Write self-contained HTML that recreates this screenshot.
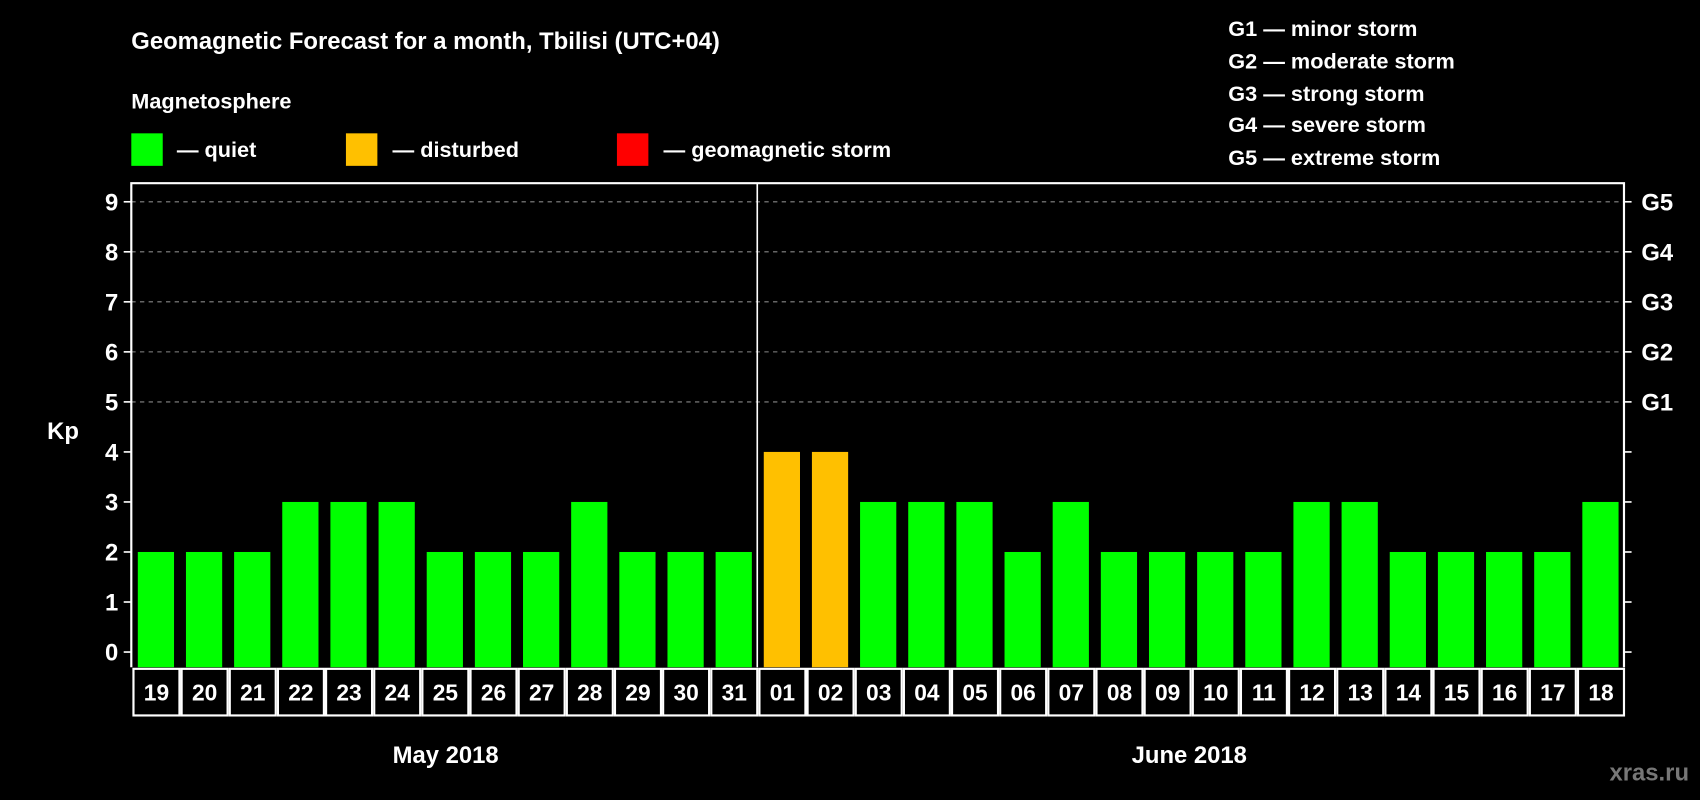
<!DOCTYPE html>
<html><head><meta charset="utf-8"><style>
html,body{margin:0;padding:0;background:#000;}
svg{display:block;font-family:"Liberation Sans",sans-serif;font-weight:bold;}
</style></head><body>
<svg id="chart" width="1700" height="800" viewBox="0 0 1568 738" xmlns="http://www.w3.org/2000/svg">
<rect width="1568" height="738" fill="#000"/>
<text x="121" y="45" fill="#fff" font-size="22">Geomagnetic Forecast for a month, Tbilisi (UTC+04)</text>
<text x="121" y="100" fill="#fff" font-size="20">Magnetosphere</text>
<g><rect x="121" y="123" width="29" height="30" fill="#00ff00"/><text x="163" y="145" fill="#fff" font-size="20">— quiet</text></g>
<g><rect x="319" y="123" width="29" height="30" fill="#ffc000"/><text x="362" y="145" fill="#fff" font-size="20">— disturbed</text></g>
<g><rect x="569" y="123" width="29" height="30" fill="#ff0000"/><text x="612" y="145" fill="#fff" font-size="20">— geomagnetic storm</text></g>
<g fill="#fff" font-size="20">
<text x="1133" y="33">G1 — minor storm</text>
<text x="1133" y="63">G2 — moderate storm</text>
<text x="1133" y="93">G3 — strong storm</text>
<text x="1133" y="122">G4 — severe storm</text>
<text x="1133" y="152">G5 — extreme storm</text>
</g>
<text x="58" y="405" fill="#fff" font-size="22" text-anchor="middle">Kp</text>
<g id="grid"></g><g id="bars"></g><g id="axes"></g><g id="dates"></g>
<text x="411" y="704" fill="#fff" font-size="22" text-anchor="middle">May 2018</text>
<text x="1097" y="704" fill="#fff" font-size="22" text-anchor="middle">June 2018</text>
<text x="1558" y="720" fill="#777" font-size="22" text-anchor="end">xras.ru</text>
</svg>
<script>
const days = ["19","20","21","22","23","24","25","26","27","28","29","30","31","01","02","03","04","05","06","07","08","09","10","11","12","13","14","15","16","17","18"];
const kpValues = [2,2,2,3,3,3,2,2,2,3,2,2,2,4,4,3,3,3,2,3,2,2,2,2,3,3,2,2,2,2,3];
const yTicks = [0,1,2,3,4,5,6,7,8,9];
const gLabels = ["G1","G2","G3","G4","G5"];
const NS="http://www.w3.org/2000/svg";
const X0=121,X1=1498,YT=169,YB=615.5;
const y0=601.5,unit=46.15;
const ys=v=>y0-v*unit;
const step=(X1-X0)/days.length;
const xs=i=>X0+i*step;
function mk(t,a,p){const e=document.createElementNS(NS,t);for(const k in a)e.setAttribute(k,a[k]);p.appendChild(e);return e;}
const grid=document.getElementById('grid'),bars=document.getElementById('bars'),axes=document.getElementById('axes'),dates=document.getElementById('dates');
yTicks.forEach(v=>{
  if(v>=5){const l=mk('line',{x1:X0,x2:X1,y1:ys(v),y2:ys(v),stroke:'#888','stroke-dasharray':'4,4','stroke-width':1},grid);
  
  }
  const t1=mk('line',{x1:X0-7,x2:X0,y1:ys(v),y2:ys(v),stroke:'#fff','stroke-width':1.5},axes);
  
  
  const t2=mk('line',{x1:X1,x2:X1+7,y1:ys(v),y2:ys(v),stroke:'#fff','stroke-width':1.5},axes);
  
  
  const tx=mk('text',{x:X0-12,y:ys(v)+8,fill:'#fff','font-size':22,'text-anchor':'end'},axes);
  tx.textContent=v;
  
  
});
gLabels.forEach((g,i)=>{
  const tx=mk('text',{x:X1+16,y:ys(5+i)+8,fill:'#fff','font-size':22},axes);
  tx.textContent=g;
  
  
});
kpValues.forEach((v,i)=>{
  const c=v>=5?'#ff0000':(v>=4?'#ffc000':'#00ff00');
  const r=mk('rect',{x:xs(i)+6,y:ys(v),width:step-11,height:YB-ys(v),fill:c},bars);
  
  
});
const ax=mk('path',{d:`M${X0},${YB} V${YT} H${X1} V${YB}`,fill:'none',stroke:'#fff','stroke-width':2},axes);


const dv=mk('line',{x1:xs(13),x2:xs(13),y1:YT,y2:YB,stroke:'#fff','stroke-width':1.5},axes);


days.forEach((d,i)=>{
  const r=mk('rect',{x:xs(i)+2,y:617,width:step-2,height:43,fill:'#000',stroke:'#fff','stroke-width':2},dates);
  
  
  const t=mk('text',{x:xs(i)+step/2+1,y:646,fill:'#fff','font-size':21,'text-anchor':'middle'},dates);
  t.textContent=d;
  
  
});
</script>
</body></html>
